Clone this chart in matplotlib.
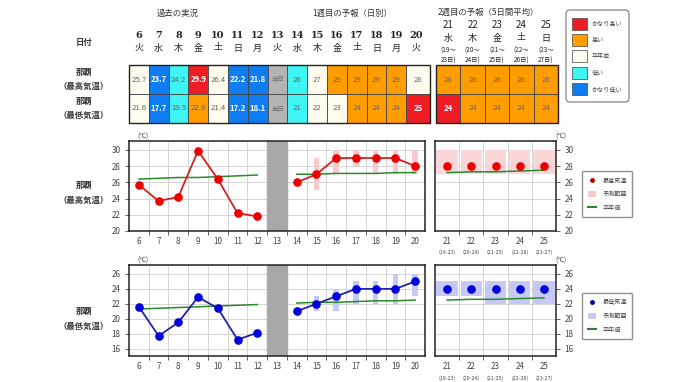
import numpy as np
import matplotlib
matplotlib.use("Agg")
import matplotlib.pyplot as plt
from matplotlib.patches import Rectangle, FancyBboxPatch
from matplotlib.lines import Line2D
from matplotlib.patches import Patch
import matplotlib.transforms as mtransforms

plt.rcParams['font.family'] = ['Noto Sans CJK JP', 'DejaVu Sans']

# ---- data ----
days1 = list(range(6, 21))            # past (6-12), today 13, week 1 (14-20)
wdays1 = ['火', '水', '木', '金', '土', '日', '月', '火', '水', '木', '金', '土', '日', '月', '火']
max_txt1 = ['25.7', '23.7', '24.2', '29.9', '26.4', '22.2', '21.8', '当日', '26', '27', '29', '29', '29', '29', '28']
max_cls1 = ['n', 'vl', 'l', 'vh', 'n', 'vl', 'vl', 'x', 'l', 'n', 'h', 'h', 'h', 'h', 'n']
min_txt1 = ['21.6', '17.7', '19.5', '22.9', '21.4', '17.2', '18.1', '当日', '21', '22', '23', '24', '24', '24', '25']
min_cls1 = ['n', 'vl', 'l', 'h', 'n', 'vl', 'vl', 'x', 'l', 'n', 'n', 'h', 'h', 'h', 'vh']

days2 = [21, 22, 23, 24, 25]
wdays2 = ['水', '木', '金', '土', '日']
per_a = ['(19～', '(20～', '(21～', '(22～', '(23～']
per_b = ['23日)', '24日)', '25日)', '26日)', '27日)']
per_tick = ['(19-23)', '(20-24)', '(21-25)', '(22-26)', '(23-27)']
max_txt2 = ['28', '28', '28', '28', '28']
max_cls2 = ['h', 'h', 'h', 'h', 'h']
min_txt2 = ['24', '24', '24', '24', '24']
min_cls2 = ['vh', 'h', 'h', 'h', 'h']

past_days = [6, 7, 8, 9, 10, 11, 12]
past_max = [25.7, 23.7, 24.2, 29.9, 26.4, 22.2, 21.8]
past_min = [21.6, 17.7, 19.5, 22.9, 21.4, 17.2, 18.1]
past_norm_max = [26.4, 26.5, 26.6, 26.6, 26.7, 26.8, 26.9]
past_norm_min = [21.3, 21.4, 21.5, 21.6, 21.7, 21.8, 21.9]

w1_days = [14, 15, 16, 17, 18, 19, 20]
w1_max = [26, 27, 29, 29, 29, 29, 28]
w1_max_lo = [np.nan, 25, 27, 28, 27, 27, 27]
w1_max_hi = [np.nan, 29, 30, 30, 30, 30, 30]
w1_norm_max = [27.0, 27.0, 27.1, 27.1, 27.1, 27.2, 27.2]
w1_min = [21, 22, 23, 24, 24, 24, 25]
w1_min_lo = [np.nan, 21, 21, 22, 22, 22, 23]
w1_min_hi = [np.nan, 23, 24, 25, 25, 26, 26]
w1_norm_min = [22.1, 22.2, 22.2, 22.3, 22.4, 22.4, 22.5]

w2_max = [28, 28, 28, 28, 28]
w2_max_lo = [27, 27, 27, 27, 27]
w2_max_hi = [30, 30, 30, 30, 30]
w2_norm_max = [27.2, 27.3, 27.3, 27.4, 27.5]
w2_min = [24, 24, 24, 24, 24]
w2_min_lo = [23, 23, 22, 22, 22]
w2_min_hi = [25, 25, 25, 25, 25]
w2_norm_min = [22.5, 22.6, 22.6, 22.7, 22.8]

legend_cls = ['vh', 'h', 'n', 'l', 'vl']
legend_lbl = ['かなり高い', '高い', '平年並', '低い', 'かなり低い']

cls_color = {'vh': '#ee1d25', 'h': '#ff9c00', 'n': '#fffcef', 'l': '#3ff4f4',
             'vl': '#0f7cf2', 'x': '#b4b4b4'}

# ---- figure ----
W, H = 680, 382
fig = plt.figure(figsize=(W / 100, H / 100), dpi=100)
ov = fig.add_axes([0, 0, 1, 1])
ov.set_xlim(0, W)
ov.set_ylim(H, 0)
ov.axis('off')

txtc = '#333333'

# section titles
ov.text(178, 13, '過去の実況', ha='center', va='center', fontsize=6, color=txtc)
ov.text(352, 13, '1週目の予報（日別）', ha='center', va='center', fontsize=6, color=txtc)
ov.text(438, 12, '2週目の予報（5日間平均）', ha='left', va='center', fontsize=6, color=txtc)

# left labels
ov.text(84, 42, '日付', ha='center', va='center', fontsize=6, color=txtc, fontweight='bold')
for y0, sub in [(72, '（最高気温）'), (101, '（最低気温）')]:
    ov.text(84, y0, '那覇', ha='center', va='center', fontsize=6, color=txtc, fontweight='bold')
    ov.text(84, y0 + 14, sub, ha='center', va='center', fontsize=6, color=txtc, fontweight='bold')
for y0, sub in [(185, '（最高気温）'), (311, '（最低気温）')]:
    ov.text(84, y0, '那覇', ha='center', va='center', fontsize=6, color=txtc, fontweight='bold')
    ov.text(84, y0 + 15, sub, ha='center', va='center', fontsize=6, color=txtc, fontweight='bold')


def draw_cell(x, y, w, h, cls, txt):
    ov.add_patch(Rectangle((x, y), w, h, facecolor=cls_color[cls], edgecolor='#444444', lw=0.6))
    if cls in ('vh', 'vl'):
        col, fw = 'white', 'bold'
    else:
        col, fw = '#666666', 'normal'
    fs = 4.6 if txt == '当日' else 5.6
    ov.text(x + w / 2, y + h / 2, txt, ha='center', va='center', fontsize=fs, color=col, fontweight=fw)


# table 1 (past + week 1)
tx0, cw, ty0, rh = 129, 19.8, 65, 29
for i, d in enumerate(days1):
    x = tx0 + i * cw
    w = cw if i < len(days1) - 1 else 430 - x
    ov.text(x + cw / 2, 35, str(d), ha='center', va='center', fontsize=7, fontweight='bold',
            color='#222222', family='DejaVu Serif')
    ov.text(x + cw / 2, 48, wdays1[i], ha='center', va='center', fontsize=6.5, color='#222222')
    draw_cell(x, ty0, w, rh, max_cls1[i], max_txt1[i])
    draw_cell(x, ty0 + rh, w, rh, min_cls1[i], min_txt1[i])
ov.add_patch(Rectangle((tx0, ty0), 430 - tx0, 2 * rh, fill=False, edgecolor='#222222', lw=1.0))

# table 2 (week 2)
t2x0, cw2 = 436, 24.4
for i, d in enumerate(days2):
    x = t2x0 + i * cw2
    ov.text(x + cw2 / 2, 25, str(d), ha='center', va='center', fontsize=7, color='#222222')
    ov.text(x + cw2 / 2, 38, wdays2[i], ha='center', va='center', fontsize=6.5, color='#222222')
    ov.text(x + cw2 / 2, 51, per_a[i], ha='center', va='center', fontsize=4.6, color='#222222')
    ov.text(x + cw2 / 2, 61, per_b[i], ha='center', va='center', fontsize=4.6, color='#222222')
    draw_cell(x, ty0, cw2, rh, max_cls2[i], max_txt2[i])
    draw_cell(x, ty0 + rh, cw2, rh, min_cls2[i], min_txt2[i])
ov.add_patch(Rectangle((t2x0, ty0), 5 * cw2, 2 * rh, fill=False, edgecolor='#222222', lw=1.0))

# table legend
ov.add_patch(FancyBboxPatch((566, 10), 63, 92, boxstyle='round,pad=0,rounding_size=4',
                            facecolor='white', edgecolor='#777777', lw=0.8))
for i, (c, lbl) in enumerate(zip(legend_cls, legend_lbl)):
    yc = 24 + i * 16.2
    ov.add_patch(Rectangle((572, yc - 6), 15, 12, facecolor=cls_color[c], edgecolor='#444444', lw=0.5))
    ov.text(592, yc, lbl, ha='left', va='center', fontsize=4.4, color='#444444')


def px_axes(x0, y0, x1, y1):
    return fig.add_axes([x0 / W, 1 - y1 / H, (x1 - x0) / W, (y1 - y0) / H])


def style_axes(ax, xlo, xhi, ylo, yhi, yticks, right=False):
    ax.set_xlim(xlo, xhi)
    ax.set_ylim(ylo, yhi)
    ax.set_xticks(np.arange(xlo + 1, xhi, 1))
    ax.set_xticklabels([])
    ax.set_yticks(yticks)
    ax.grid(True, color='#cfcfcf', lw=0.6)
    ax.set_axisbelow(True)
    for s in ax.spines.values():
        s.set_linewidth(1.1)
        s.set_color('#222222')
    ax.tick_params(axis='x', which='major', length=3, width=0.6, color='#444444')
    ax.tick_params(axis='x', which='minor', length=0, labelsize=5.8, colors='#444444', pad=4)
    if right:
        ax.yaxis.tick_right()
    ax.tick_params(axis='y', length=3, width=0.6, labelsize=5.8, colors='#444444', pad=3)


red_line, red_mk, pink = '#d42020', '#ee0000', '#f9c9cc'
blue_line, blue_mk, lblue = '#2222aa', '#0000dd', '#c6c9f6'
green = '#2a8a2a'


def main_panel(y0, y1, ylo, yhi, yticks, pv, pn, fv, flo, fhi, fn, lc, mc, bc):
    ax = px_axes(129, y0, 425, y1)
    style_axes(ax, 5.5, 20.5, ylo, yhi, yticks)
    ax.set_xticks(days1, minor=True)
    ax.set_xticklabels([str(d) for d in days1], minor=True)
    ax.axvspan(12.5, 13.5, color='#a8a8a8', zorder=1.5)
    lo, hi = np.array(flo, float), np.array(fhi, float)
    ax.bar(w1_days, hi - lo, bottom=lo, width=0.28, color=bc, zorder=2)
    ax.plot(past_days, pn, color=green, lw=1.1, zorder=3)
    ax.plot(w1_days, fn, color=green, lw=1.1, zorder=3)
    ax.plot(past_days, pv, color=lc, lw=1.3, marker='o', ms=5.2, mfc=mc, mec=mc, zorder=4)
    ax.plot(w1_days, fv, color=lc, lw=1.3, marker='o', ms=5.2, mfc=mc, mec=mc, zorder=4)
    ax.text(6.2, yhi, '(℃)', ha='center', va='bottom', fontsize=4.8, color='#444444')
    return ax


def week2_panel(y0, y1, ylo, yhi, yticks, v, lo, hi, n, mc, bc):
    ax = px_axes(435, y0, 556, y1)
    style_axes(ax, 20.5, 25.5, ylo, yhi, yticks, right=True)
    ax.set_xticks(days2, minor=True)
    ax.set_xticklabels([str(d) for d in days2], minor=True)
    lo, hi = np.array(lo, float), np.array(hi, float)
    ax.bar(days2, hi - lo, bottom=lo, width=0.88, color=bc, zorder=2)
    ax.plot(days2, n, color=green, lw=1.1, zorder=3)
    ax.plot(days2, v, ls='none', marker='o', ms=5.2, mfc=mc, mec=mc, zorder=4)
    trans = mtransforms.blended_transform_factory(ax.transData, ax.transAxes)
    for d, p in zip(days2, per_tick):
        ax.text(d, -0.24, p, transform=trans, ha='center', va='center', fontsize=3.8, color='#444444')
    ax.text(25.7, yhi, '(℃)', ha='center', va='bottom', fontsize=4.8, color='#444444')
    return ax


main_panel(141, 231, 20, 31.1, np.arange(20, 31, 2), past_max, past_norm_max,
           w1_max, w1_max_lo, w1_max_hi, w1_norm_max, red_line, red_mk, pink)
week2_panel(141, 231, 20, 31.1, np.arange(20, 31, 2), w2_max, w2_max_lo, w2_max_hi,
            w2_norm_max, red_mk, '#fad6d9')
main_panel(265, 356, 15, 27.2, np.arange(16, 27, 2), past_min, past_norm_min,
           w1_min, w1_min_lo, w1_min_hi, w1_norm_min, blue_line, blue_mk, lblue)
week2_panel(265, 356, 15, 27.2, np.arange(16, 27, 2), w2_min, w2_min_lo, w2_min_hi,
            w2_norm_min, blue_mk, lblue)

# chart legends
for (yt, mc, bc, lbl) in [(168, '#c00000', '#f9c9cc', '最高気温'), (290, '#000090', '#c6c9f6', '最低気温')]:
    handles = [Line2D([], [], ls='none', marker='o', ms=2.5, mfc=mc, mec=mc),
               Patch(facecolor=bc, edgecolor='none'),
               Line2D([], [], color=green, lw=1.5)]
    fig.legend(handles, [lbl, '予測範囲', '平年値'], loc='upper left',
               bbox_to_anchor=(579 / W, 1 - yt / H), fontsize=4.4, frameon=True,
               fancybox=True, edgecolor='#777777', handlelength=1.4, handleheight=1.3,
               labelspacing=0.9, borderpad=0.9, handletextpad=1.0, labelcolor='#444444')

fig.savefig('out.png', dpi=100)
